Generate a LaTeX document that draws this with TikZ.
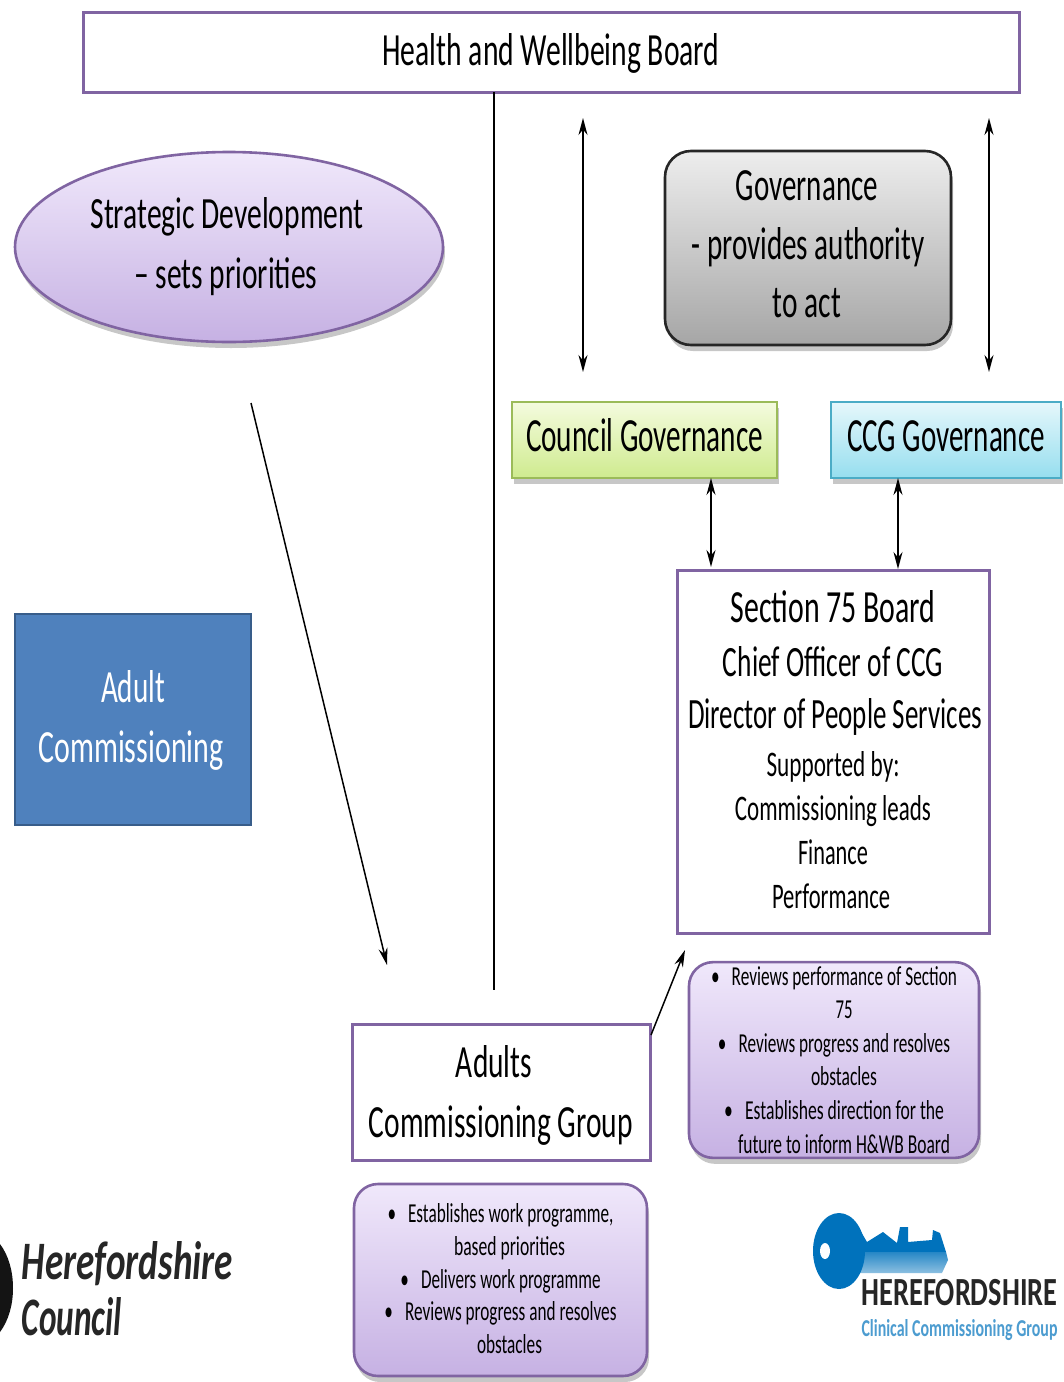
\documentclass[tikz,border=0pt]{standalone}
\usepackage{fontspec}
\usepackage{graphicx}
\setmainfont{Carlito}
\usetikzlibrary{arrows.meta,shapes.geometric,shadows}
\newcommand\lnx[3]{\resizebox{#1pt}{#2pt}{\vphantom{dg}#3}}
\definecolor{purp}{HTML}{8064A2}
\definecolor{lilactop}{HTML}{F0E8FB}
\definecolor{lilacbot}{HTML}{C6B1E3}
\definecolor{keyblue}{HTML}{0072BC}
\tikzset{
  x=1pt,y=-1pt,
  softshadow/.style={drop shadow={shadow xshift=2pt,shadow yshift=-6pt,fill=black,opacity=.22}},
  plainbox/.style={draw=purp,line width=3pt,fill=white,inner sep=0pt,outer sep=0pt,align=center},
  lilac/.style={draw=purp,line width=2.6pt,top color=lilactop,bottom color=lilacbot,inner sep=0pt,outer sep=0pt,align=center,softshadow},
  dbl/.style={{Stealth[length=17pt,width=9pt]}-{Stealth[length=17pt,width=9pt]},line width=1.5pt,black},
  sgl/.style={-{Stealth[length=17pt,width=9pt]},line width=1.5pt,black},
  lead/.style={font=\fontsize{10}{#1}\selectfont},
}
\begin{document}
\begin{tikzpicture}
\useasboundingbox (0,0) rectangle (1064,1382);
\fill[white] (0,0) rectangle (1064,1382);

\node[plainbox,minimum width=936pt,minimum height=80pt] (board) at (551,52) {\rule{0pt}{34pt}\lnx{337}{32}{Health and Wellbeing Board}};

\node[lilac,ellipse,minimum width=428pt,minimum height=190pt,lead=60] (strategic) at (229,247)
  {\lnx{273}{31}{Strategic Development}\hspace*{4pt}\\\lnx{183}{31}{– sets priorities}\hspace*{6pt}};

\node[draw=black!85,line width=2.6pt,rounded corners=26pt,top color=black!7,bottom color=black!35,inner sep=0pt,outer sep=0pt,align=center,softshadow,minimum width=286pt,minimum height=194pt,lead=58.5] (gov) at (808,248)
  {\lnx{142}{32}{Governance}\hspace*{2pt}\\\lnx{233}{32}{- provides authority}\\\lnx{68}{32}{to act}\hspace*{2pt}\rule[-10pt]{0pt}{0pt}};

\node[draw={rgb,255:red,155;green,187;blue,89},line width=2.6pt,top color={rgb,255:red,244;green,251;blue,222},bottom color={rgb,255:red,207;green,235;blue,143},inner sep=0pt,outer sep=0pt,softshadow,minimum width=265pt,minimum height=76pt] (council) at (644.5,440)
  {\lnx{237}{33}{Council Governance}\rule[-11pt]{0pt}{0pt}};

\node[draw={rgb,255:red,75;green,172;blue,198},line width=2.6pt,top color={rgb,255:red,229;green,247;blue,251},bottom color={rgb,255:red,150;green,222;blue,239},inner sep=0pt,outer sep=0pt,softshadow,minimum width=230pt,minimum height=76pt] (ccg) at (946,440)
  {\lnx{198}{33}{CCG Governance}\rule[-11pt]{0pt}{0pt}};

\node[plainbox,minimum width=312pt,minimum height=363pt,lead=44] (section) at (833,751.5)
  {\rule{0pt}{35pt}\lnx{205}{32}{Section 75 Board}\\[10pt]
   \lnx{220}{30}{Chief Officer of CCG}\\[8pt]
   \hspace*{4pt}\lnx{294}{30}{Director of People Services}\\[4pt]
   \lnx{133}{25}{Supported by:}\hspace*{2pt}\\
   \lnx{196}{25}{Commissioning leads}\hspace*{2pt}\\
   \lnx{70}{25}{Finance}\hspace*{4pt}\\
   \lnx{118}{25}{Performance}\hspace*{4pt}};

\node[draw={rgb,255:red,56;green,93;blue,138},line width=2.6pt,fill={rgb,255:red,79;green,129;blue,189},text=white,inner sep=0pt,outer sep=0pt,align=center,minimum width=236pt,minimum height=211pt,lead=60] (adult) at (133,719.5)
  {\rule{0pt}{34pt}\lnx{64}{32}{Adult}\\\lnx{185}{32}{Commissioning}\hspace*{4pt}};

\node[plainbox,minimum width=298pt,minimum height=136pt,lead=60] (adults) at (501,1092)
  {\rule{0pt}{38pt}\lnx{76}{32}{Adults}\hspace*{14pt}\\\lnx{264}{32}{Commissioning Group}};

\node[lilac,rounded corners=24pt,minimum width=290pt,minimum height=194pt,lead=33.6] (notesone) at (834,1060)
  {\rule{0pt}{23pt}\lnx{246}{19}{•\hspace{0.7em}Reviews performance of Section}\\
   \hspace*{20pt}\lnx{17}{19}{75}\\
   \lnx{232}{19}{•\hspace{0.7em}Reviews progress and resolves}\\
   \hspace*{20pt}\lnx{66}{19}{obstacles}\\
   \lnx{220}{19}{•\hspace{0.7em}Establishes direction for the}\\
   \hspace*{20pt}\lnx{212}{19}{future to inform H\&WB Board}};

\node[lilac,rounded corners=24pt,minimum width=293pt,minimum height=192pt,lead=32.8] (notestwo) at (500.5,1280)
  {\rule{0pt}{21pt}\lnx{226}{19}{•\hspace{0.7em}Establishes work programme,}\\
   \hspace*{18pt}\lnx{111}{19}{based priorities}\\
   \lnx{200}{19}{•\hspace{0.7em}Delivers work programme}\\
   \lnx{232}{19}{•\hspace{0.7em}Reviews progress and resolves}\\
   \hspace*{18pt}\lnx{65}{19}{obstacles}};

% connectors
\coordinate (spine) at (494,990);
\draw[line width=2pt] (board.south -| spine) -- (spine);
\coordinate (cgtop) at (583,118);
\coordinate (cgbot) at (583,372);
\draw[dbl] (cgtop) -- (cgbot);
\coordinate (ccgtop) at (989,118);
\coordinate (ccgbot) at (989,372);
\draw[dbl] (ccgtop) -- (ccgbot);
\coordinate (linka) at (711,0);
\coordinate (linkb) at (898,0);
\draw[dbl,shorten >=3pt] (council.south -| linka) -- (section.north -| linka);
\draw[dbl,shorten >=1pt] (ccg.south -| linkb) -- (section.north -| linkb);
\coordinate (stratend) at (251,403);
\coordinate (groupend) at (387,965);
\draw[sgl] (stratend) -- (groupend);
\coordinate (upstart) at (651,1035);
\coordinate (upend) at (685,950);
\draw[sgl] (upstart) -- (upend);

% Herefordshire Council logo
\fill[black!92] (0,1244) .. controls (9,1256) and (13,1272) .. (13,1288) .. controls (13,1304) and (9,1320) .. (0,1332) -- cycle;
\node[inner sep=0pt,text=black!85] (hclogoa) at (127.5,1265) {\bfseries\itshape\lnx{211}{38}{Herefordshire}};
\node[inner sep=0pt,text=black!85] (hclogob) at (72,1321) {\bfseries\itshape\lnx{100}{38}{Council}};

% CCG logo
\fill[keyblue] (860,1230) -- (867,1242) -- (883,1232) -- (897,1243) -- (900,1227) -- (908,1227) -- (908,1242) -- (932,1240) -- (933,1230) -- (940,1233) -- (946,1252) -- (860,1252) -- cycle;
\shade[top color=keyblue!85,bottom color=keyblue!45] (860,1252) -- (946,1252) -- (948,1260) -- (942,1273) -- (860,1273) -- cycle;
\fill[keyblue] (839,1251) ellipse [x radius=26,y radius=38];
\fill[white] (825,1251) ellipse [x radius=5,y radius=8];
\node[inner sep=0pt,text=black!85] (ccglogoa) at (959.5,1295) {\bfseries\lnx{196}{28}{HEREFORDSHIRE}};
\node[inner sep=0pt,text=keyblue!70] (ccglogob) at (959.5,1330) {\bfseries\lnx{196}{17}{Clinical Commissioning Group}};
\end{tikzpicture}
\end{document}
